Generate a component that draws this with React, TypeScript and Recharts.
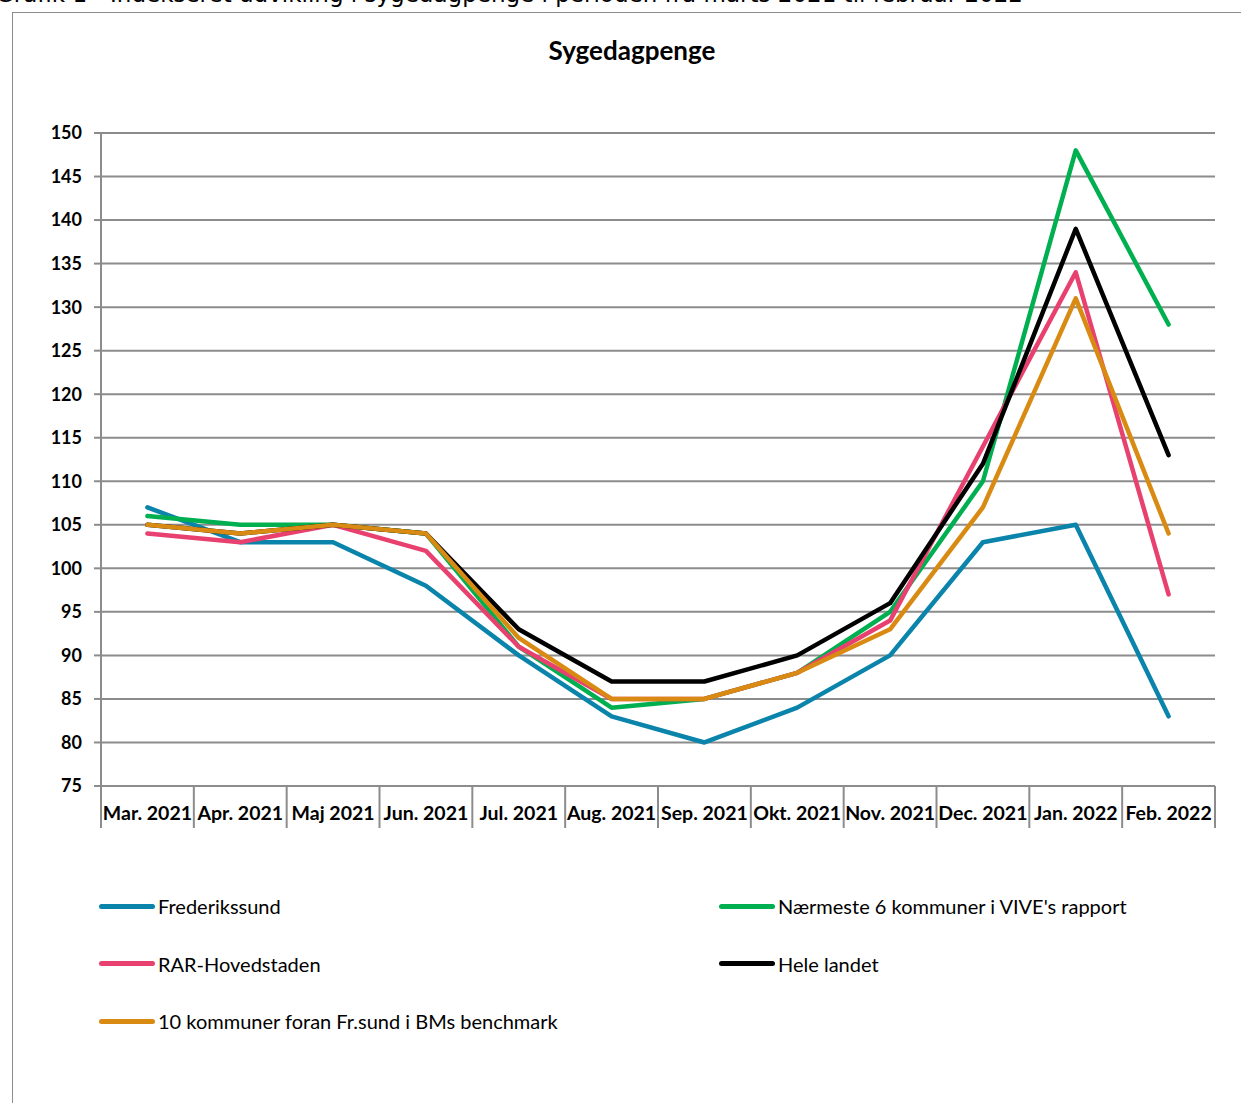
import React from 'react';
import { LineChart, Line, XAxis, YAxis, CartesianGrid } from 'recharts';

// Kategorier og tal
const months = [
  'Mar. 2021', 'Apr. 2021', 'Maj 2021', 'Jun. 2021', 'Jul. 2021', 'Aug. 2021',
  'Sep. 2021', 'Okt. 2021', 'Nov. 2021', 'Dec. 2021', 'Jan. 2022', 'Feb. 2022',
];
const frederikssund = [107, 103, 103, 98, 90, 83, 80, 84, 90, 103, 105, 83];
const naermeste6 = [106, 105, 105, 104, 91, 84, 85, 88, 95, 110, 148, 128];
const rarHovedstaden = [104, 103, 105, 102, 91, 85, 85, 88, 94, 114, 134, 97];
const heleLandet = [105, 104, 105, 104, 93, 87, 87, 90, 96, 112, 139, 113];
const tiKommuner = [105, 104, 105, 104, 92, 85, 85, 88, 93, 107, 131, 104];
const yTicks = [75, 80, 85, 90, 95, 100, 105, 110, 115, 120, 125, 130, 135, 140, 145, 150];

const series = [
  { key: 'frederikssund', name: 'Frederikssund', values: frederikssund, color: '#0a84ab' },
  { key: 'naermeste6', name: "Nærmeste 6 kommuner i VIVE's rapport", values: naermeste6, color: '#00b050' },
  { key: 'rar', name: 'RAR-Hovedstaden', values: rarHovedstaden, color: '#e8416f' },
  { key: 'hele', name: 'Hele landet', values: heleLandet, color: '#000000' },
  { key: 'ti', name: '10 kommuner foran Fr.sund i BMs benchmark', values: tiKommuner, color: '#d98a12' },
];

const data = months.map((m, i) => {
  const row: Record<string, string | number> = { month: m };
  series.forEach((s) => {
    row[s.key] = s.values[i];
  });
  return row;
});

const PLOT_LEFT = 101;
const PLOT_RIGHT = 1215;
const PLOT_TOP = 133;
const PLOT_BOTTOM = 786;
const AXIS_BOTTOM = 828;
const BAND = (PLOT_RIGHT - PLOT_LEFT) / months.length;
const GRID = '#8c8c8c';
const FONT = 'Lato, "Open Sans", sans-serif';

function MonthTick(props: any) {
  const { x, index } = props;
  const left = x - BAND / 2;
  const right = x + BAND / 2;
  return (
    <g>
      <line x1={left} x2={left} y1={PLOT_BOTTOM} y2={AXIS_BOTTOM} stroke={GRID} strokeWidth={2} />
      {index === months.length - 1 && (
        <line x1={right} x2={right} y1={PLOT_BOTTOM} y2={AXIS_BOTTOM} stroke={GRID} strokeWidth={2} />
      )}
      <text x={x} y={820} textAnchor="middle" fontSize={19.5} fontWeight={700} fill="#000" fontFamily={FONT}>
        {props.payload.value}
      </text>
    </g>
  );
}

const legendRows = [
  [series[0], series[1]],
  [series[2], series[3]],
  [series[4]],
];

export default function App() {
  return (
    <div style={{ position: 'absolute', left: 0, top: 0, width: 1241, height: 1103, overflow: 'hidden', background: '#fff' }}>
      {/* sidetitel, delvist skåret af som i originalen */}
      <div
        style={{
          position: 'absolute',
          left: -4,
          top: -19,
          fontFamily: '"DejaVu Sans", sans-serif',
          fontSize: 23,
          lineHeight: '26px',
          whiteSpace: 'nowrap',
          color: '#000',
        }}
      >
        Grafik 1 - Indekseret udvikling i sygedagpenge i perioden fra marts 2021 til februar 2022
      </div>

      {/* ramme om diagrammet */}
      <div
        style={{
          position: 'absolute',
          left: 12,
          top: 12,
          width: 1260,
          height: 1120,
          borderLeft: '1px solid #8c8c8c',
          borderTop: '1px solid #8c8c8c',
        }}
      />

      <div
        style={{
          position: 'absolute',
          left: 0,
          top: 33,
          width: 1264,
          textAlign: 'center',
          fontFamily: FONT,
          fontWeight: 700,
          fontSize: 26,
          lineHeight: '34px',
          color: '#000',
        }}
      >
        Sygedagpenge
      </div>

      <div style={{ position: 'absolute', left: 0, top: 0 }}>
        <LineChart
          width={1241}
          height={AXIS_BOTTOM}
          data={data}
          margin={{ top: PLOT_TOP, right: 1241 - PLOT_RIGHT, left: 0, bottom: 0 }}
        >
          <CartesianGrid vertical={false} stroke={GRID} strokeWidth={2} />
          <XAxis
            dataKey="month"
            scale="band"
            height={AXIS_BOTTOM - PLOT_BOTTOM}
            interval={0}
            tickLine={false}
            axisLine={{ stroke: GRID, strokeWidth: 2 }}
            tick={<MonthTick />}
          />
          <YAxis
            width={PLOT_LEFT}
            domain={[75, 150]}
            ticks={yTicks}
            interval={0}
            axisLine={{ stroke: GRID, strokeWidth: 2 }}
            tickLine={{ stroke: GRID, strokeWidth: 2 }}
            tickSize={7}
            tickMargin={12}
            tick={{ fill: '#000', fontSize: 18, fontWeight: 700, fontFamily: FONT }}
          />
          {series.map((s) => (
            <Line
              key={s.key}
              dataKey={s.key}
              name={s.name}
              type="linear"
              stroke={s.color}
              strokeWidth={4.5}
              strokeLinejoin="round"
              strokeLinecap="round"
              dot={false}
              activeDot={false}
              isAnimationActive={false}
            />
          ))}
        </LineChart>
      </div>

      {/* forklaring */}
      {legendRows.map((row, r) =>
        row.map((s, c) => (
          <div
            key={s.key}
            style={{
              position: 'absolute',
              left: c === 0 ? 99 : 719,
              top: 894 + r * 57.5,
              display: 'flex',
              alignItems: 'center',
              fontFamily: FONT,
              fontSize: 20,
              lineHeight: '24px',
              color: '#000',
              whiteSpace: 'nowrap',
            }}
          >
            <span
              style={{
                display: 'inline-block',
                width: 56,
                height: 5,
                borderRadius: 3,
                background: s.color,
                marginRight: 3,
              }}
            />
            {s.name}
          </div>
        ))
      )}
    </div>
  );
}
